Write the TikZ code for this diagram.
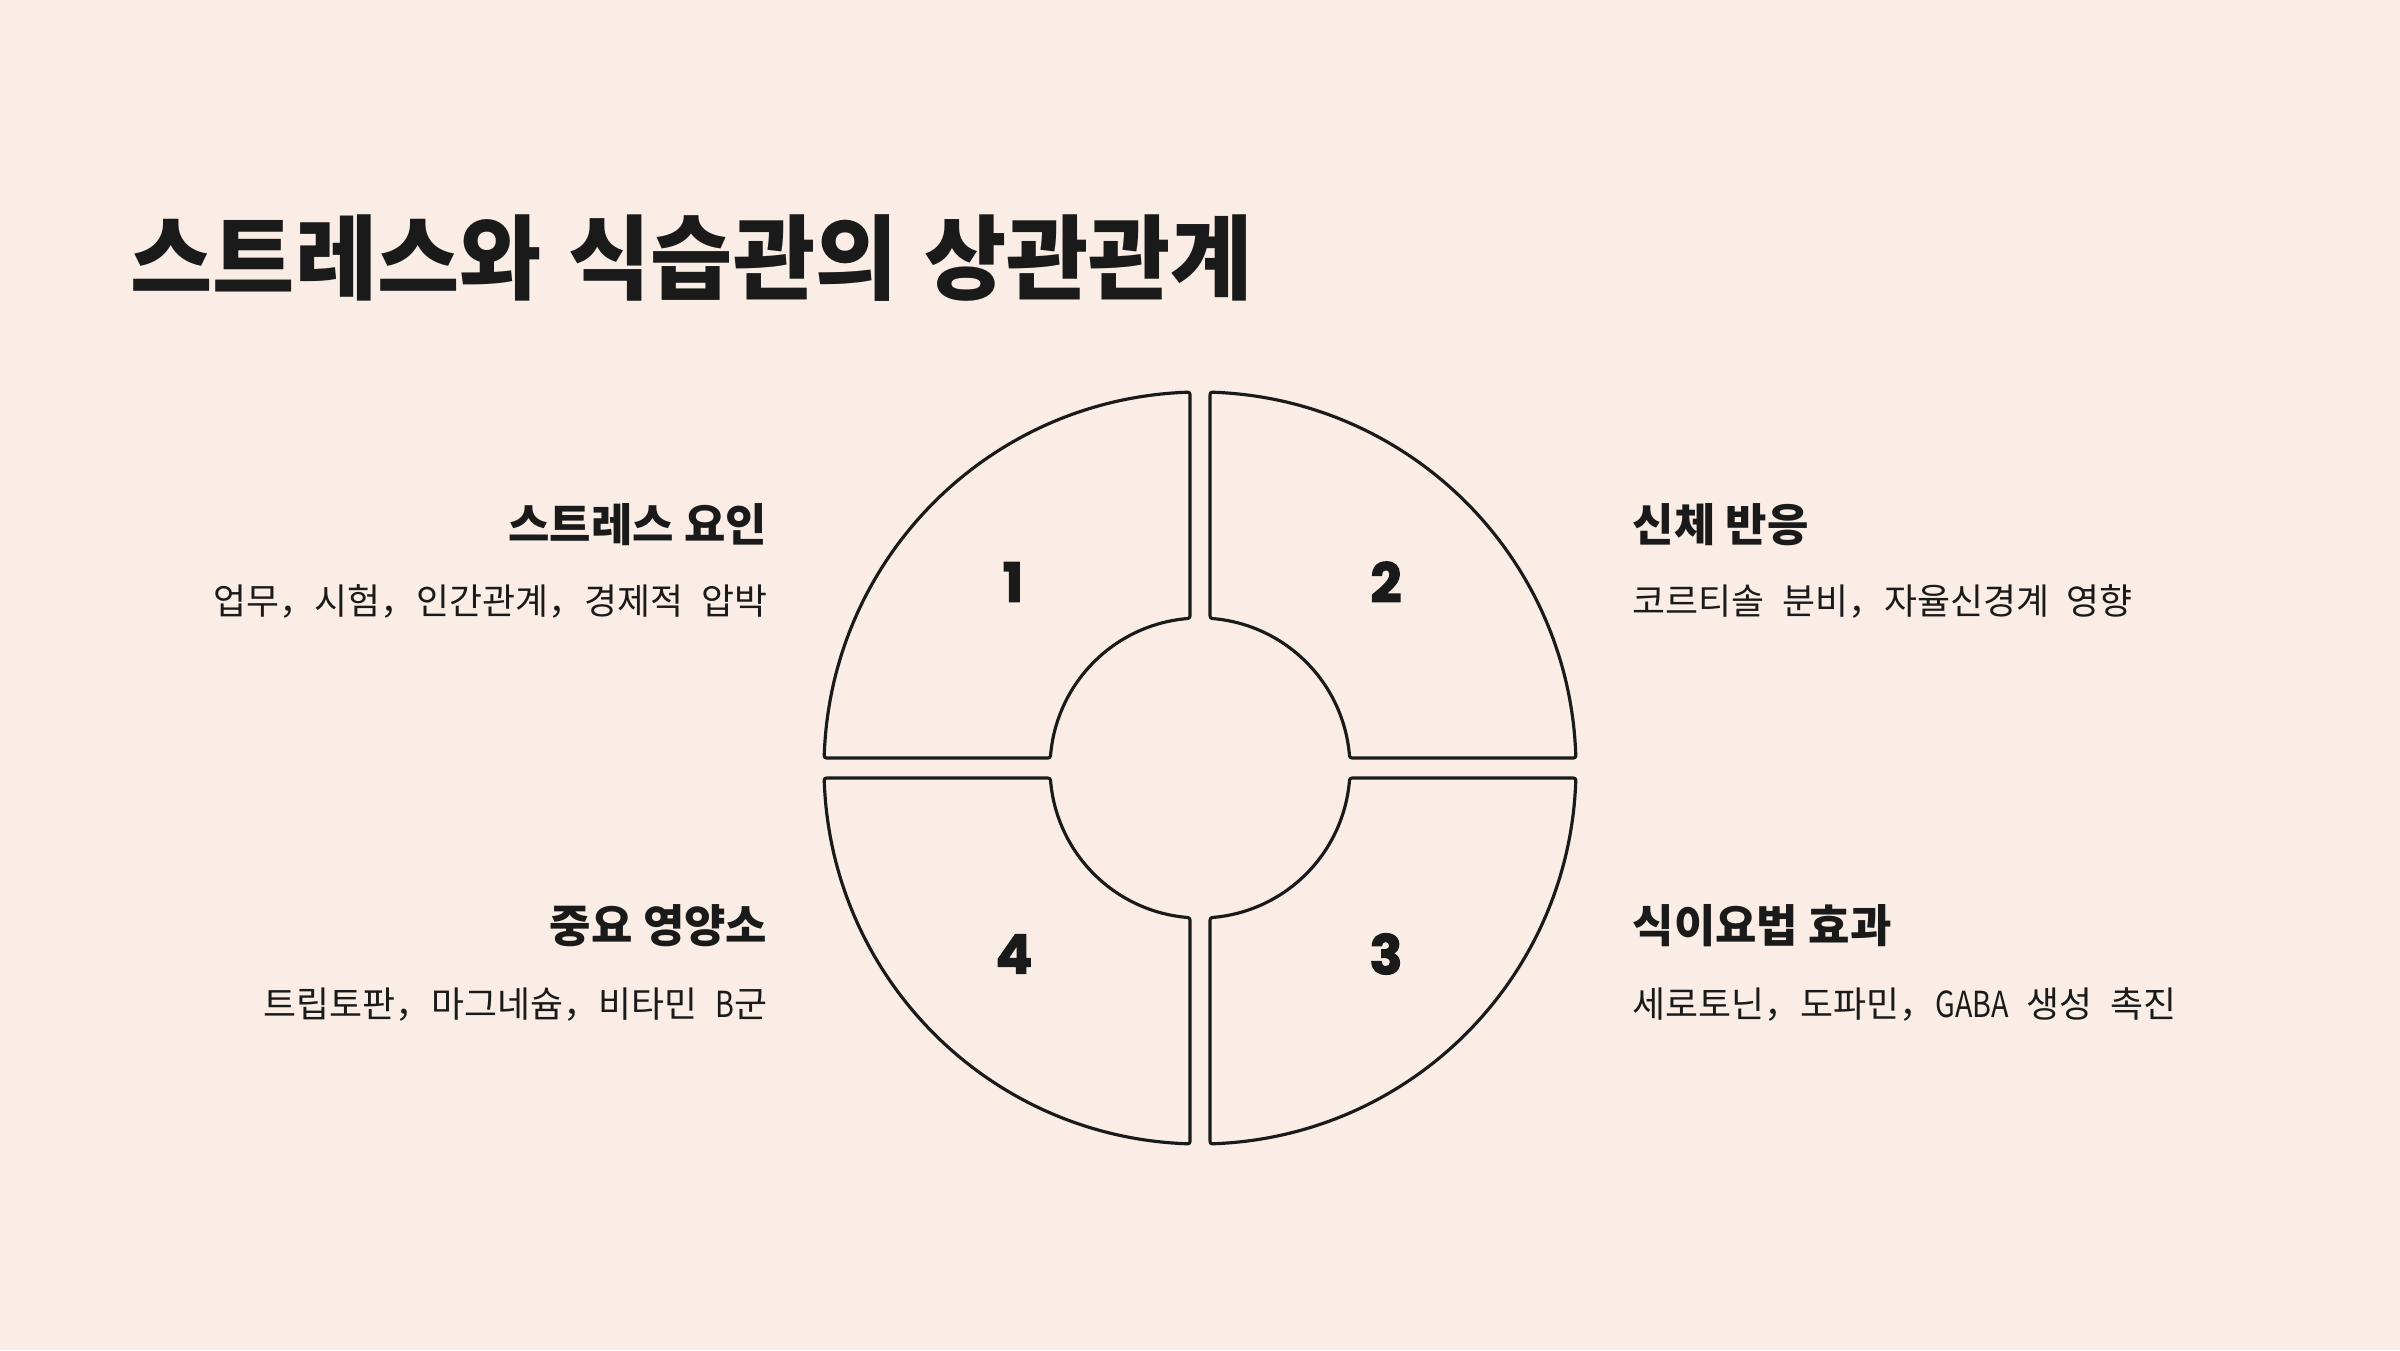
\documentclass[tikz,border=0pt]{standalone}
\usepackage{fontspec}
\newfontfamily\kr{Noto Sans CJK KR}
\newfontfamily\numfont{Poppins}[BoldFeatures={FakeBold=2.5}]
\definecolor{bgc}{HTML}{F9EDE6}
\definecolor{ink}{HTML}{1A1A1A}
\newcommand{\tsp}{\hspace{0.30em}}
\newcommand{\bsp}{\hspace{0.49em}}
\tikzset{
  titletext/.style={inner sep=0pt, text=ink, font=\kr\bfseries\fontsize{26.2pt}{30pt}\selectfont},
  headtext/.style={inner sep=0pt, text=ink, font=\kr\bfseries\fontsize{12.8pt}{15pt}\selectfont},
  bodytext/.style={inner sep=0pt, text=ink, font=\kr\fontsize{10.2pt}{12pt}\selectfont},
  numtext/.style={inner sep=0pt, text=ink, font=\numfont\bfseries\fontsize{15.4pt}{18pt}\selectfont},
  piece/.style={draw=ink, line width=0.9pt, fill=bgc, line join=round}
}
\begin{document}
\begin{tikzpicture}[x=0.01cm, y=0.01cm]
  \fill[bgc] (0,0) rectangle (2400,1350);
  \useasboundingbox (0,0) rectangle (2400,1350);

  % title
  \node[titletext, anchor=west] (title) at (130,1092) {\scalebox{0.97}[1]{스트레스와\tsp{}식습관의\tsp{}상관관계}};

  % ring pieces
  \coordinate (C) at (1200,582);
  \foreach \r in {0,-90,-180,-270} {
    \begin{scope}[shift={(C)}, rotate=\r]
      \draw[piece] (-10,370.87) -- (-10,154.67)
        .. controls (-10,149.67) .. (95.733:150)
        arc[start angle=95.733, end angle=174.267, radius=150]
        .. controls (-149.67,10) .. (-154.67,10)
        -- (-370.87,10)
        .. controls (-375.87,10) .. (177.714:376)
        arc[start angle=177.714, end angle=92.286, radius=376]
        .. controls (-10,375.87) .. (-10,370.87)
        -- cycle;
    \end{scope}
  }

  % numbers
  \node[numtext] (n1) at (1013,768) {1};
  \node[numtext] (n2) at (1386,768) {2};
  \node[numtext] (n3) at (1386,396) {3};
  \node[numtext] (n4) at (1014,396) {4};

  % left texts
  \node[headtext, anchor=east] (h1) at (768,825) {스트레스 요인};
  \node[bodytext, anchor=east] (b1) at (768,749) {업무，시험，인간관계，경제적\bsp{}압박};
  \node[headtext, anchor=east] (h4) at (768,424) {중요 영양소};
  \node[bodytext, anchor=east] (b4) at (768,345) {트립토판，마그네슘，비타민\bsp{}\scalebox{0.8}[1]{B}군};

  % right texts
  \node[headtext, anchor=west] (h2) at (1632,825) {신체 반응};
  \node[bodytext, anchor=west] (b2) at (1632,749) {코르티솔\bsp{}분비，자율신경계\bsp{}영향};
  \node[headtext, anchor=west] (h3) at (1632,424) {식이요법 효과};
  \node[bodytext, anchor=west] (b3) at (1632,345) {세로토닌，도파민，\scalebox{0.8}[1]{GABA}\bsp{}생성\bsp{}촉진};
\end{tikzpicture}
\end{document}
